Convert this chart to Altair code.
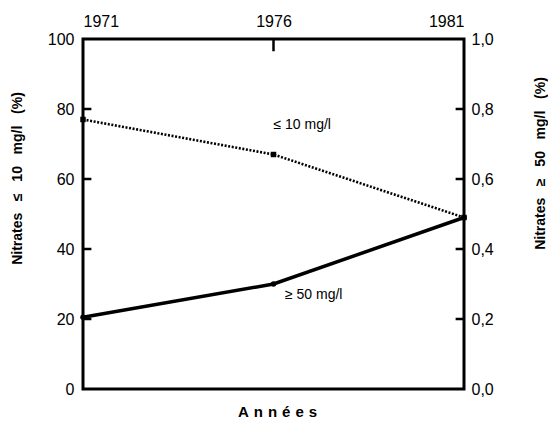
import altair as alt
import pandas as pd

years = [1971, 1976, 1981]
low_nitrate_pct = [77, 67, 49]          # Nitrates <= 10 mg/l (%), left axis
high_nitrate_pct = [0.205, 0.30, 0.49]  # Nitrates >= 50 mg/l (%), right axis

left_ticks = [20, 40, 60, 80]
right_ticks = [0.2, 0.4, 0.6, 0.8]

low_df = pd.DataFrame({"year": years, "v": low_nitrate_pct})
high_df = pd.DataFrame({"year": years, "v": high_nitrate_pct})

FONT = "Liberation Sans"
SP = "\u00a0\u00a0\u00a0"

xscale = alt.Scale(domain=[1971, 1981], nice=False, zero=False)
yl = alt.Scale(domain=[0, 100], nice=False)
yr = alt.Scale(domain=[0, 1.0], nice=False)

x_top = alt.Axis(
    orient="top", values=years, format="d", domain=False, ticks=False,
    labelFontSize=16, labelFont=FONT, labelColor="black", labelPadding=10,
    grid=False, title="")
y_left = alt.Axis(
    orient="left", values=[0, 20, 40, 60, 80, 100], domain=False, ticks=False,
    labelFontSize=16, labelFont=FONT, labelColor="black", labelPadding=9,
    grid=False,
    title=f"Nitrates{SP}≤{SP}10{SP}mg/l{SP}(%)",
    titleFont=FONT, titleFontSize=14, titleFontWeight="bold", titleColor="black",
    titleAngle=270, titleX=-66, titleY=139, titleAlign="center",
    titleBaseline="middle")
x_bottom = alt.Axis(
    orient="bottom", labels=False, ticks=False, domain=False, grid=False,
    title="A\u2004n\u2004n\u2004é\u2004e\u2004s",
    titleFont=FONT, titleFontSize=15, titleFontWeight="bold", titleColor="black",
    titleX=194, titleY=22, titleAlign="center", titleBaseline="middle")
y_right = alt.Axis(
    orient="right", values=[0, 0.2, 0.4, 0.6, 0.8, 1.0], domain=False, ticks=False,
    labelExpr="replace(format(datum.value, '.1f'), '.', ',')",
    labelFontSize=16, labelFont=FONT, labelColor="black", labelPadding=7,
    grid=False,
    title=f"Nitrates{SP}≥{SP}50{SP}mg/l{SP}(%)",
    titleFont=FONT, titleFontSize=14, titleFontWeight="bold", titleColor="black",
    titleAngle=270, titleX=76, titleY=124, titleAlign="center",
    titleBaseline="middle")


def XL(f):
    return alt.X(f, scale=xscale, axis=x_top)


def YL(f):
    return alt.Y(f, scale=yl, axis=y_left)


def XR(f):
    return alt.X(f, scale=xscale, axis=x_bottom)


def YR(f):
    return alt.Y(f, scale=yr, axis=y_right)


# ---------- left group (<= 10 mg/l) ----------
low_line = alt.Chart(low_df).mark_line(
    color="black", strokeWidth=2.6, strokeDash=[2, 1.6]
).encode(x=XL("year:Q"), y=YL("v:Q"))
low_pts = alt.Chart(low_df).mark_point(
    filled=True, color="black", size=30, shape="square", opacity=1
).encode(x=XL("year:Q"), y=YL("v:Q"))
lt_df = pd.DataFrame({"year": [1971] * 4, "x2": [1971.22] * 4, "v": left_ticks})
lt = alt.Chart(lt_df).mark_rule(color="black", strokeWidth=2.5).encode(
    x=XL("year:Q"), x2="x2:Q", y=YL("v:Q"))
tt_df = pd.DataFrame({"year": [1976], "v": [100], "y2": [96.5]})
tt = alt.Chart(tt_df).mark_rule(color="black", strokeWidth=2.5).encode(
    x=XL("year:Q"), y=YL("v:Q"), y2="y2:Q")
lab1_df = pd.DataFrame({"year": [1976.0], "v": [75.4], "t": ["≤ 10 mg/l"]})
lab1 = alt.Chart(lab1_df).mark_text(
    align="left", baseline="middle", font=FONT, fontSize=14, color="black"
).encode(x=XL("year:Q"), y=YL("v:Q"), text="t:N")
left_group = alt.layer(low_line, low_pts, lt, tt, lab1)

# ---------- right group (>= 50 mg/l) ----------
high_line = alt.Chart(high_df).mark_line(color="black", strokeWidth=3.5).encode(
    x=XR("year:Q"), y=YR("v:Q"))
high_pts = alt.Chart(high_df).mark_point(
    filled=True, color="black", size=30, opacity=1
).encode(x=XR("year:Q"), y=YR("v:Q"))
rt_df = pd.DataFrame({"year": [1980.78] * 4, "x2": [1981] * 4, "v": right_ticks})
rt = alt.Chart(rt_df).mark_rule(color="black", strokeWidth=2.5).encode(
    x=XR("year:Q"), x2="x2:Q", y=YR("v:Q"))
lab2_df = pd.DataFrame({"year": [1976.3], "v": [0.269], "t": ["≥ 50 mg/l"]})
lab2 = alt.Chart(lab2_df).mark_text(
    align="left", baseline="middle", font=FONT, fontSize=14, color="black"
).encode(x=XR("year:Q"), y=YR("v:Q"), text="t:N")
right_group = alt.layer(high_line, high_pts, rt, lab2)

chart = alt.layer(left_group, right_group).resolve_scale(
    y="independent"
).resolve_axis(
    x="independent"
).properties(
    width=381, height=350,
    autosize=alt.AutoSizeParams(type="none"),
    padding={"left": 75, "top": 31, "right": 84, "bottom": 29},
    background="white",
).configure_view(
    stroke="black", strokeWidth=3
)

chart.save("out.html", embed_options={"renderer": "svg", "actions": False})
